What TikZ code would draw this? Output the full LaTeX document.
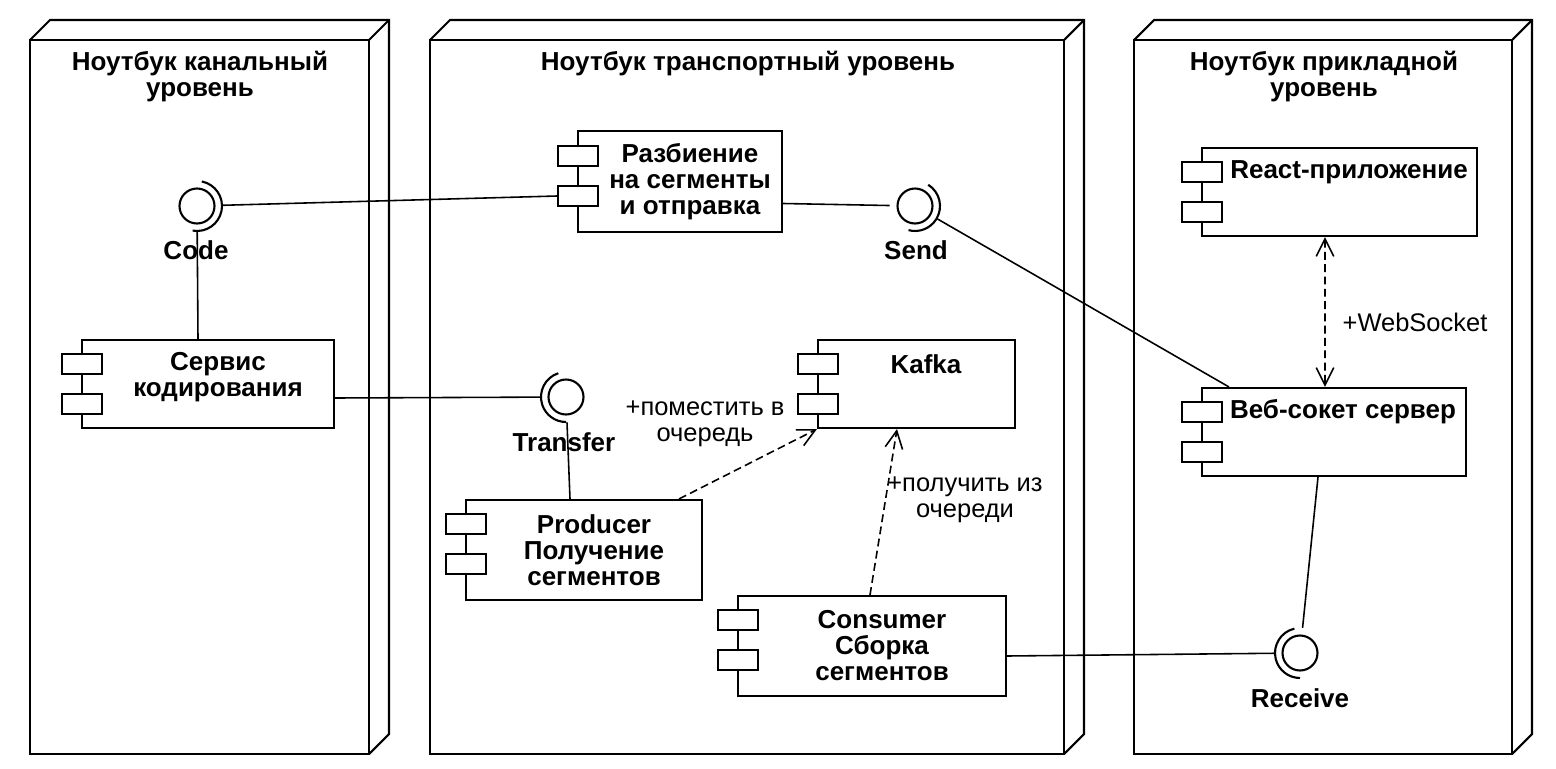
\documentclass[tikz,border=0pt]{standalone}
\usepackage{fontspec}
\setmainfont{Liberation Sans}
\usetikzlibrary{arrows.meta}

\tikzset{
    nodebox/.style={line width=1.2pt, line join=miter},
    comp/.style={draw, line width=1.2pt, inner sep=0pt},
    comptab/.style={draw, fill=white, line width=1.2pt, inner sep=0pt, minimum width=0.8cm, minimum height=0.4cm},
    ctext/.style={align=center, font=\fontsize{14.8}{14.8}\selectfont\bfseries},
    ltext/.style={align=center, font=\fontsize{14.5}{14.8}\selectfont},
    iface/.style={circle, inner sep=0pt, minimum size=1cm},
    iline/.style={line width=1.2pt},
    conn/.style={line width=0.9pt},
    dep/.style={line width=0.9pt, dash pattern=on 4.5pt off 2.5pt}
}

\begin{document}
\begin{tikzpicture}[x=0.02cm, y=-0.02cm,
    >={Straight Barb[length=10pt,width=10pt]}]
    \useasboundingbox (0,0) rectangle (1556,768);

    %Link Layer Box
    \draw[nodebox] (30,40) rectangle (369,754);
    \draw[nodebox] (30,40) -- (50,20) -- (389,20) -- (389,734) -- (369,754);
    \draw[nodebox] (369,40) -- (389,20);
    \node[ctext] (linktitle) at (200,77) {Ноутбук канальный\\уровень};

    %Transport Layer Box
    \draw[nodebox] (430,40) rectangle (1064,754);
    \draw[nodebox] (430,40) -- (450,20) -- (1084,20) -- (1084,734) -- (1064,754);
    \draw[nodebox] (1064,40) -- (1084,20);
    \node[ctext] (transporttitle) at (748,64) {Ноутбук транспортный уровень};

    %Application Layer Box
    \draw[nodebox] (1134,40) rectangle (1512,754);
    \draw[nodebox] (1134,40) -- (1154,20) -- (1532,20) -- (1532,734) -- (1512,754);
    \draw[nodebox] (1512,40) -- (1532,20);
    \node[ctext] (apptitle) at (1324,77) {Ноутбук прикладной\\уровень};

    %Components
    \node[comp, minimum width=4.08cm, minimum height=2.02cm] (split) at (680,181.5) {};
    \node[comptab] (splittab1) at (578,156) {};
    \node[comptab] (splittab2) at (578,196) {};
    \node[ctext] (splittext) at (690,182) {Разбиение\\на сегменты\\и отправка};

    \node[comp, minimum width=5.04cm, minimum height=1.76cm] (coder) at (208,384) {};
    \node[comptab] (codertab1) at (82,364) {};
    \node[comptab] (codertab2) at (82,404) {};
    \node[ctext] (codertext) at (218,377) {Сервис\\кодирования};

    \node[comp, minimum width=3.94cm, minimum height=1.76cm] (kafka) at (916.5,384) {};
    \node[comptab] (kafkatab1) at (818,364) {};
    \node[comptab] (kafkatab2) at (818,404) {};
    \node[ctext] (kafkatext) at (926,364) {Kafka};

    \node[comp, minimum width=4.72cm, minimum height=2cm] (producer) at (584,550) {};
    \node[comptab] (producertab1) at (466,524) {};
    \node[comptab] (producertab2) at (466,564) {};
    \node[ctext] (producertext) at (594,550) {Producer\\Получение\\сегментов};

    \node[comp, minimum width=5.36cm, minimum height=2cm] (consumer) at (872,646) {};
    \node[comptab] (consumertab1) at (738,620) {};
    \node[comptab] (consumertab2) at (738,660) {};
    \node[ctext] (consumertext) at (882,646) {Consumer\\Сборка\\сегментов};

    \node[comp, minimum width=5.5cm, minimum height=1.76cm] (react) at (1339.5,192) {};
    \node[comptab] (reacttab1) at (1202,172) {};
    \node[comptab] (reacttab2) at (1202,212) {};
    \node[ctext] (reacttext) at (1349,172) {React-приложение};

    \node[comp, minimum width=5.28cm, minimum height=1.76cm] (wsserver) at (1334,432) {};
    \node[comptab] (wsservertab1) at (1202,412) {};
    \node[comptab] (wsservertab2) at (1202,452) {};
    \node[ctext] (wsservertext) at (1343,412) {Веб-сокет сервер};

    %Interfaces
    \node[iface] (code) at (197,206) {};
    \draw[iline] (code.center) circle[radius=0.35cm];
    \draw[iline] ([shift={(79:0.5cm)}]code.center) arc[start angle=79, end angle=-100, radius=0.5cm];
    \node[ctext] (codelabel) at (196,250) {Code};

    \node[iface] (send) at (915,206) {};
    \draw[iline] (send.center) circle[radius=0.35cm];
    \draw[iline] ([shift={(58:0.5cm)}]send.center) arc[start angle=58, end angle=-105, radius=0.5cm];
    \node[ctext] (sendlabel) at (916,250) {Send};

    \node[iface] (transfer) at (566,397) {};
    \draw[iline] (transfer.center) circle[radius=0.35cm];
    \draw[iline] ([shift={(108:0.5cm)}]transfer.center) arc[start angle=108, end angle=270, radius=0.5cm];
    \node[ctext] (transferlabel) at (564,442) {Transfer};

    \node[iface] (receive) at (1300,653) {};
    \draw[iline] (receive.center) circle[radius=0.35cm];
    \draw[iline] ([shift={(103:0.5cm)}]receive.center) arc[start angle=103, end angle=270, radius=0.5cm];
    \node[ctext] (receivelabel) at (1300,698) {Receive};

    %Connectors
    \draw[conn] (code) -- (splittab2.west);
    \draw[conn] (code) -- ([xshift=-0.2cm]coder.north);
    \draw[conn] ([yshift=-0.44cm]split.east) -- (send);
    \draw[conn] (send) -- ([xshift=0.56cm]wsserver.north west);
    \draw[conn] ([yshift=-0.28cm]coder.east) -- (transfer);
    \draw[conn] (transfer) -- ([xshift=-0.28cm]producer.north);
    \draw[conn] ([yshift=-0.2cm]consumer.east) -- (receive);
    \draw[conn] ([xshift=-0.32cm]wsserver.south) -- (receive);

    %Dependencies
    \draw[dep, ->] ([xshift=-0.48cm]producer.north east) -- (kafka.south west);
    \draw[dep, ->] ([xshift=-0.04cm]consumer.north) -- ([xshift=-0.39cm]kafka.south);
    \draw[dep, <->] ([xshift=-0.29cm]react.south) -- ([xshift=-0.18cm]wsserver.north);
    \node[ltext] (putlabel) at (705,423.5) {+поместить в\\очередь};
    \node[ltext] (getlabel) at (965,499.5) {+получить из\\очереди};
    \node[ltext] (wslabel) at (1415,322) {+WebSocket};
\end{tikzpicture}
\end{document}
